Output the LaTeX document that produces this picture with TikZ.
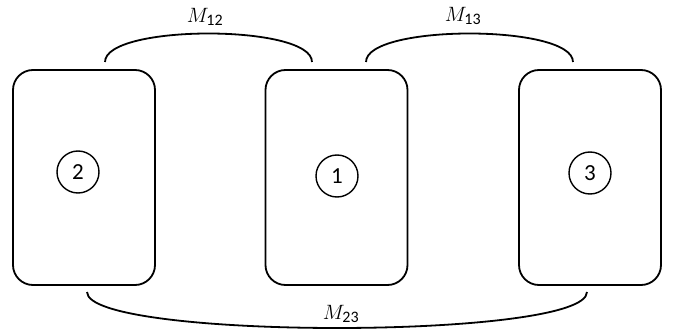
\documentclass[tikz,border=0pt]{standalone}
\usepackage{fontspec}
\setmainfont{Carlito}
\newcommand{\subnum}[1]{\hbox{\fontsize{16}{16}\selectfont #1}}
\begin{document}
\begin{tikzpicture}[x=1pt,y=-1pt,
  lw/.style={line width=1.8pt},
  room/.style={draw,lw,rounded corners=20pt,minimum width=142pt,minimum height=215pt,inner sep=0pt},
  num/.style={draw,line width=1.4pt,circle,minimum size=42pt,inner sep=0pt,font=\fontsize{23}{25}\selectfont},
  lab/.style={font=\fontsize{21}{24}\selectfont,inner sep=0pt}]
\useasboundingbox (0,0) rectangle (673,334);
\node[room] (b2) at (84,177.5) {};
\node[room] (b1) at (336.5,177.5) {};
\node[room] (b3) at (590,177.5) {};
\node[num] (c2) at (78,172) {2};
\node[num] (c1) at (337,176) {1};
\node[num] (c3) at (590,173) {3};
\coordinate (a1) at (105,62);
\coordinate (a2) at (312,62);
\coordinate (a3) at (366,62);
\coordinate (a4) at (573,62);
\coordinate (a5) at (87,292);
\coordinate (a6) at (587,292);
\draw[lw] (a1) .. controls (105,24) and (312,24) .. (a2);
\draw[lw] (a3) .. controls (366,24) and (573,24) .. (a4);
\draw[lw] (a5) .. controls (87,340) and (587,340) .. (a6);
\node[lab] (m12) at (205,17) {$M_{\subnum{12}}$};
\node[lab] (m13) at (463,16) {$M_{\subnum{13}}$};
\node[lab] (m23) at (341,314) {$M_{\subnum{23}}$};
\end{tikzpicture}
\end{document}
